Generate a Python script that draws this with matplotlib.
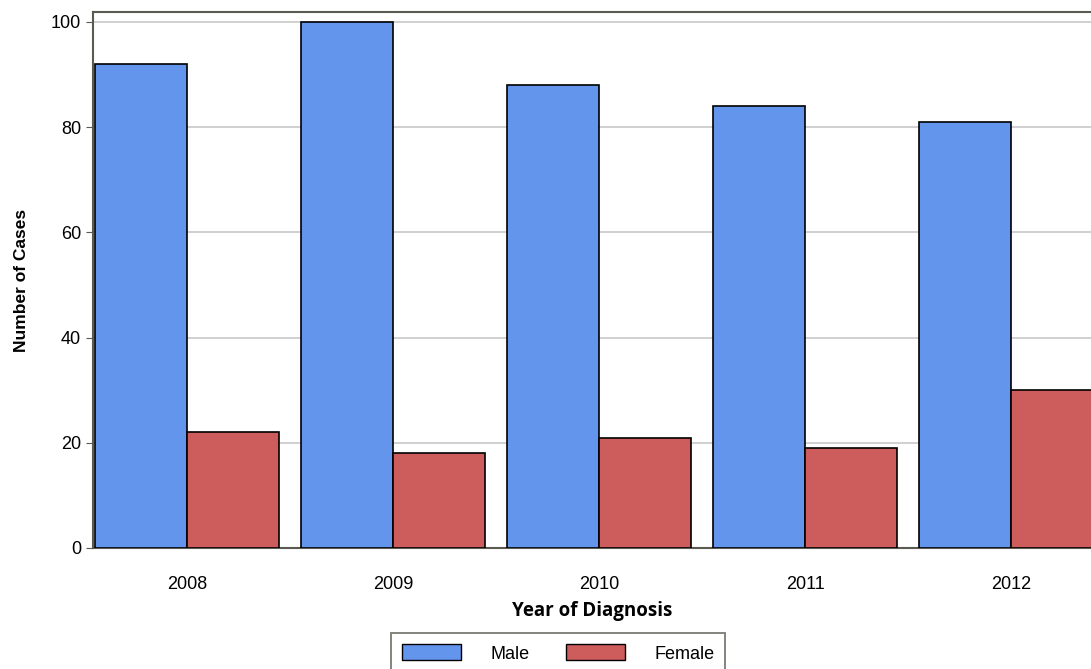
import numpy as np
import matplotlib.pyplot as plt
from matplotlib.patches import Patch

# data
years = ['2008', '2009', '2010', '2011', '2012']
male = [92, 100, 88, 84, 81]
female = [22, 18, 21, 19, 30]

plt.rcParams['font.family'] = ['Liberation Sans', 'DejaVu Sans']

fig = plt.figure(figsize=(10.91, 6.69), dpi=100)
ax = fig.add_axes([93 / 1091, 1 - 548 / 669, 1 - 93 / 1091, 536 / 669])

x = np.arange(len(years))
w = 0.447
ax.bar(x - w / 2, male, width=w, color='#6495ED', edgecolor='black', linewidth=1.2, label='Male', zorder=3)
ax.bar(x + w / 2, female, width=w, color='#CD5C5C', edgecolor='black', linewidth=1.2, label='Female', zorder=3)

ax.set_xlim(-0.456, 4.388)
ax.set_ylim(0, 101.9)
ax.set_yticks([0, 20, 40, 60, 80, 100])
ax.set_xticks(x)
ax.set_xticklabels(years)
ax.tick_params(axis='x', length=0, pad=20, labelsize=13)
ax.tick_params(axis='y', length=5, labelsize=13, color='#5a5a50')
ax.yaxis.grid(True, color='#c8c8c8', linewidth=1.2, zorder=0)

for s in ['left', 'top', 'bottom']:
    ax.spines[s].set_color('#5a5a50')
    ax.spines[s].set_linewidth(1.5)
ax.spines['right'].set_visible(False)

ax.set_ylabel('Number of Cases', fontsize=12.5, fontweight='bold', labelpad=16)
ax.set_xlabel('Year of Diagnosis', fontsize=13.5, fontweight='bold', family='Open Sans', labelpad=6)

handles = [Patch(facecolor='#6495ED', edgecolor='black', label='Male'),
           Patch(facecolor='#CD5C5C', edgecolor='black', label='Female')]
leg = fig.legend(handles=handles, loc='lower center', bbox_to_anchor=(558 / 1091, -0.02), ncol=2,
                 fontsize=13, frameon=True, fancybox=False, handlelength=3.3, handleheight=1.0,
                 columnspacing=2.0, handletextpad=1.6, borderpad=0.6)
leg.get_frame().set_edgecolor('#5a5a50')
leg.get_frame().set_linewidth(1.3)

plt.savefig('out.png', dpi=100)
